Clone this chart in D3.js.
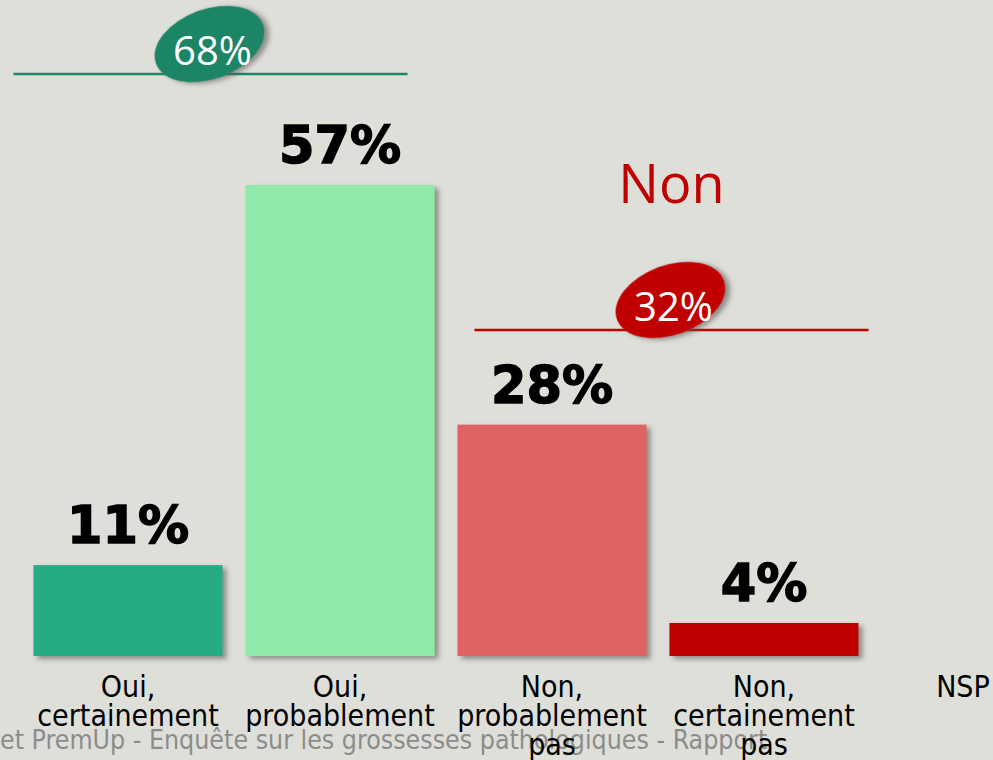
<!DOCTYPE html>
<html>
<head>
<meta charset="utf-8">
<script src="https://cdn.jsdelivr.net/npm/d3@7"></script>
<style>
  body { margin: 0; background: #dfdfd9; overflow: hidden; }
  svg { display: block; }
</style>
</head>
<body>
<svg id="chart" width="993" height="760"></svg>
<script>
// data
var categories = ["Oui, certainement", "Oui, probablement", "Non, probablement pas", "Non, certainement pas", "NSP"];
var labelLines = [["Oui,", "certainement"], ["Oui,", "probablement"], ["Non,", "probablement", "pas"], ["Non,", "certainement", "pas"], ["NSP"]];
var values = [11, 57, 28, 4, 0];
var barColors = ["#27ab83", "#8fe9ab", "#e06363", "#c00000", "#999999"];
var groups = [
    {name: "Oui", total: 68, from: 0, to: 1, color: "#1f8566"},
    {name: "Non", total: 32, from: 2, to: 3, color: "#c00000"}
];
var footer = "et PremUp - Enquête sur les grossesses pathologiques - Rapport";

var svg = d3.select("#chart"),
    width = +svg.attr("width"),
    height = +svg.attr("height");

var baseline = 656;

var x = d3.scaleBand()
    .domain(categories)
    .range([22, 1082])
    .paddingInner(0.108)
    .paddingOuter(0.054);

var y = d3.scaleLinear()
    .domain([0, 57])
    .range([baseline, 185]);

var defs = svg.append("defs");
var shadow = defs.append("filter").attr("id", "shadow")
    .attr("x", "-10%").attr("y", "-10%").attr("width", "130%").attr("height", "130%");
shadow.append("feDropShadow")
    .attr("dx", 4).attr("dy", 3).attr("stdDeviation", 2.5)
    .attr("flood-color", "#555").attr("flood-opacity", 0.6);

// footer text behind labels
svg.append("text")
    .attr("x", 0)
    .attr("y", 749)
    .style("font-family", "'DejaVu Sans Condensed', 'DejaVu Sans'")
    .style("font-stretch", "condensed")
    .style("font-size", "26.5px")
    .style("fill", "#8c8c8c")
    .text(footer);

// bars
var bar = svg.selectAll(".bar")
    .data(categories)
    .enter().append("g")
    .attr("class", "bar");

bar.filter(function(d, i) { return values[i] > 0; })
    .append("rect")
    .attr("x", function(d) { return x(d); })
    .attr("y", function(d, i) { return y(values[i]); })
    .attr("width", x.bandwidth())
    .attr("height", function(d, i) { return baseline - y(values[i]); })
    .attr("fill", function(d, i) { return barColors[i]; })
    .attr("filter", "url(#shadow)");

bar.filter(function(d, i) { return values[i] > 0; })
    .append("text")
    .attr("x", function(d) { return x(d) + x.bandwidth() / 2; })
    .attr("y", function(d, i) { return y(values[i]) - 22; })
    .style("text-anchor", "middle")
    .style("font-family", "'DejaVu Sans'")
    .style("font-weight", "bold")
    .style("font-size", "51px")
    .style("fill", "#000")
    .style("stroke", "#000")
    .style("stroke-width", "1.5px")
    .text(function(d, i) { return values[i] + "%"; });

// category labels
bar.each(function(d, i) {
    var cx = Math.min(x(d) + x.bandwidth() / 2, width - 30);
    var t = d3.select(this).append("text")
        .style("text-anchor", "middle")
        .style("font-family", "'DejaVu Sans Condensed', 'DejaVu Sans'")
        .style("font-stretch", "condensed")
        .style("font-size", "30px")
        .style("fill", "#000");
    labelLines[i].forEach(function(line, j) {
        t.append("tspan")
            .attr("x", cx)
            .attr("y", 697 + j * 29)
            .text(line);
    });
});

// group totals
var groupY = {Oui: 74, Non: 330};
groups.forEach(function(g) {
    var x0 = x(categories[g.from]),
        x1 = x(categories[g.to]) + x.bandwidth(),
        ly = groupY[g.name];
    var lx0 = g.name == "Oui" ? x0 - 20 : x0 + 17;
    var lx1 = g.name == "Oui" ? x1 - 27 : x1 + 10;
    var cx = (lx0 + lx1) / 2;

    svg.append("line")
        .attr("x1", lx0).attr("x2", lx1)
        .attr("y1", ly).attr("y2", ly)
        .attr("stroke", g.color)
        .attr("stroke-width", 2.5);

    svg.append("ellipse")
        .attr("cx", 0).attr("cy", 0)
        .attr("rx", 57).attr("ry", 35)
        .attr("transform", "translate(" + (cx - 1) + "," + (ly - 30) + ") rotate(-20)")
        .attr("fill", g.color)
        .attr("filter", "url(#shadow)");

    svg.append("text")
        .attr("x", cx + 2)
        .attr("y", ly - 9)
        .style("text-anchor", "middle")
        .style("font-family", "'Open Sans'")
        .style("font-size", "40px")
        .style("fill", "#fff")
        .text(g.total + "%");
});

// "Non" title
var nonCx = (x(categories[2]) + 17 + x(categories[3]) + x.bandwidth() + 10) / 2;
svg.append("text")
    .attr("x", nonCx)
    .attr("y", 203)
    .style("text-anchor", "middle")
    .style("font-family", "'Open Sans'")
    .style("font-size", "54px")
    .style("fill", "#c00000")
    .text("Non");
</script>
</body>
</html>
